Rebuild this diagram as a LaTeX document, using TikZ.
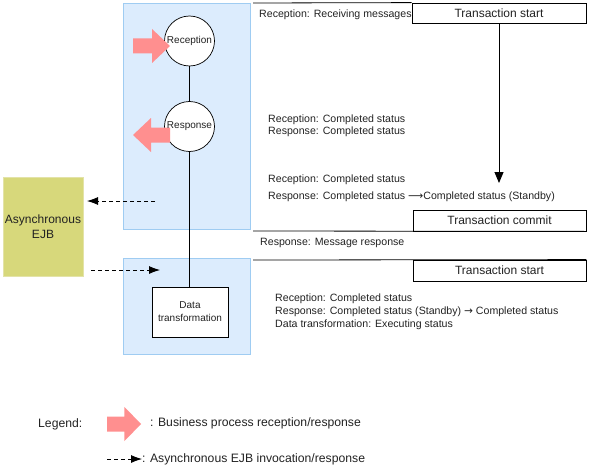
\documentclass[tikz,border=0pt]{standalone}
\usepackage{fontspec}
\setmainfont{Liberation Sans}
\newfontfamily\arrowfont{DejaVu Sans}
\usetikzlibrary{arrows.meta}
\definecolor{pinkc}{HTML}{FF8F8F}
\definecolor{bluefill}{HTML}{DCECFD}
\definecolor{blueline}{HTML}{9FCCF2}
\definecolor{ejbfill}{HTML}{D7D87B}
\definecolor{ejbline}{HTML}{E3E3A8}
\definecolor{txt}{HTML}{222222}
\tikzset{
  pinkarrow/.pic={\fill[pinkc] (0,-7.5)--(19,-7.5)--(19,-17)--(37,0)--(19,17)--(19,7.5)--(0,7.5)--cycle;},
  bluebox/.style={draw=blueline,fill=bluefill,line width=0.8pt,inner sep=0pt},
  stcircle/.style={circle,draw,fill=white,line width=0.7pt,minimum size=50pt,inner sep=0pt},
  tbox/.style={draw,line width=0.8pt,inner sep=0pt,font=\fontsize{12}{14}\selectfont,text=txt},
  lbl/.style={anchor=west,inner sep=0pt,font=\fontsize{10.6}{12}\selectfont,text=txt},
  leglbl/.style={anchor=west,inner sep=0pt,font=\fontsize{12.2}{14}\selectfont,text=txt},
  clbl/.style={inner sep=0pt,font=\fontsize{10}{12}\selectfont,text=txt},
  dasharrow/.style={dashed,dash pattern=on 4pt off 3pt,line width=0.8pt,-{Latex[length=11pt,width=8pt]}},
  hline/.style={line width=0.8pt},
}
\begin{document}
\begin{tikzpicture}[x=1pt,y=-1pt]
\useasboundingbox (0,0) rectangle (593,468);
% blue boxes
\node[bluebox,minimum width=127pt,minimum height=226pt] (b1) at (186.5,116) {};
\node[bluebox,minimum width=127pt,minimum height=96pt] (b2) at (186.5,306) {};
% EJB
\node[draw=ejbline,fill=ejbfill,line width=0.8pt,minimum width=80pt,minimum height=99pt,inner sep=0pt,align=center,font=\fontsize{12}{15}\selectfont,text=txt] (ejb) at (43,226.5) {Asynchronous\\EJB};
% circles
\node[stcircle] (rec) at (189.5,41) {};
\node[stcircle] (resp) at (189.5,126.5) {};
\node[draw,fill=white,line width=0.8pt,minimum width=76pt,minimum height=50pt,inner sep=0pt,align=center,font=\fontsize{10}{13}\selectfont,text=txt] (data) at (190,312) {Data\\transformation};
\draw[line width=0.8pt] (rec.south) -- (resp.north);
\draw[line width=0.8pt] (resp.south) -- (resp.south |- data.north);
% pink arrows
\pic at (133,46) {pinkarrow};
\pic[xscale=-1] at (170,135) {pinkarrow};
\node[clbl] (recl) at (rec.center) {Reception};
\node[clbl] (respl) at (resp.center) {Response};
% dashed arrows
\coordinate (d1s) at (155,201);
\coordinate (d1e) at (87,201);
\coordinate (d2s) at (91,270);
\coordinate (d2e) at (160,270);
\draw[dasharrow] (d1s) -- (d1e);
\draw[dasharrow] (d2s) -- (d2e);
% transaction boxes
\node[tbox,minimum width=174pt,minimum height=20pt] (ts1) at (499,13) {Transaction start};
\node[tbox,minimum width=173pt,minimum height=21pt] (tc) at (499.5,220.5) {Transaction commit};
\node[tbox,minimum width=173pt,minimum height=21pt] (ts2) at (499.5,270.5) {Transaction start};
\coordinate (l1) at (253,3);
\coordinate (l2) at (253,231);
\coordinate (l3) at (253,260);
\draw[hline] (l1) -- (ts1.north west);
\draw[hline] (l2) -- (tc.south east);
\draw[hline] (l3) -- (ts2.north east);
\coordinate (ae) at (499,183);
\draw[line width=0.9pt,-{Triangle[length=11pt,width=9pt]}] (ts1.south) -- (ae);
% texts
\node[lbl] (t1) at (259,15) {Reception: Receiving messages};
\node[lbl] (t2) at (268,119.5) {Reception: Completed status};
\node[lbl] (t3) at (268,132) {Response: Completed status};
\node[lbl] (t4) at (268,180) {Reception: Completed status};
\node[lbl] (t5) at (268,196.5) {Response: Completed status {\arrowfont ⟶}Completed status (Standby)};
\node[lbl] (t6) at (260,243) {Response: Message response};
\node[lbl] (t7) at (275,299) {Reception: Completed status};
\node[lbl] (t8) at (275,312) {Response: Completed status (Standby) {\arrowfont →} Completed status};
\node[lbl] (t9) at (275,325) {Data transformation: Executing status};
% legend
\node[leglbl] (leg) at (38,424) {Legend:};
\pic[xscale=0.92] at (107,424) {pinkarrow};
\node[leglbl] (leg1) at (150,423) {: Business process reception/response};
\coordinate (ls) at (107,459);
\coordinate (le) at (142,459);
\draw[dasharrow] (ls) -- (le);
\node[leglbl] (leg2) at (142,459) {: Asynchronous EJB invocation/response};
\end{tikzpicture}
\end{document}
